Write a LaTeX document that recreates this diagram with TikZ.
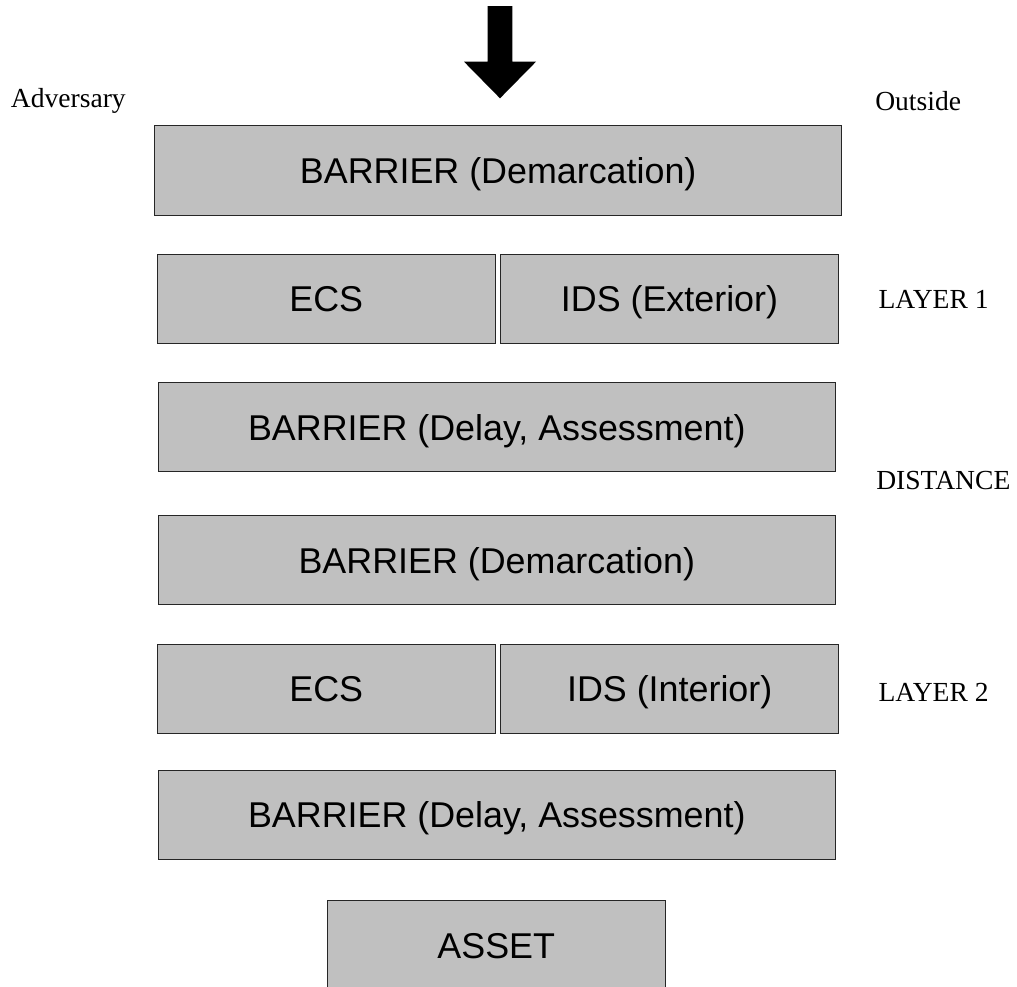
\documentclass[tikz,border=0pt]{standalone}
\usepackage{fontspec}
\setmainfont{Liberation Serif}
\setsansfont{Liberation Sans}
\definecolor{boxgray}{HTML}{C0C0C0}

\tikzset{
	layerbox/.style={draw=black!85, line width=0.7pt, fill=boxgray, minimum height=2.225cm,
		inner sep=0pt, text height=18.3pt, text depth=0pt,
		font=\sffamily\fontsize{25.5}{30}\selectfont},
	widebox/.style={layerbox, minimum width=16.925cm},
	halfbox/.style={layerbox, minimum width=8.45cm},
	sidelabel/.style={anchor=base west, inner sep=0pt, font=\fontsize{19.6}{23}\selectfont}
}

\begin{document}
\begin{tikzpicture}[x=0.025cm, y=-0.025cm]
					\useasboundingbox (0,0) rectangle (1017,986);
					\clip (0,0) rectangle (1017,986);
					
					\fill (487.7,6) -- (512.3,6) -- (512.3,61.7) -- (536,61.7) -- (500,98.3) -- (464,61.7) -- (487.7,61.7) -- cycle;
					
					\node[widebox, minimum width=17.175cm] (demarc1) at (498.2,170.5) {BARRIER (Demarcation)};
					\node[halfbox] (ecs1) at (326.3,298.8) {ECS};
					\node[halfbox] (ids1) at (669.5,298.8) {IDS (Exterior)};
					\node[widebox] (delay1) at (496.8,427.3) {BARRIER (Delay, Assessment)};
					\node[widebox] (demarc2) at (496.8,560.3) {BARRIER (Demarcation)};
					\node[halfbox] (ecs2) at (326.3,689) {ECS};
					\node[halfbox] (ids2) at (669.7,689) {IDS (Interior)};
					\node[widebox] (delay2) at (496.8,814.8) {BARRIER (Delay, Assessment)};
					\node[halfbox] (asset) at (496.2,945.2) {ASSET};
					
					\node[sidelabel] (adversary) at (10.7,107.7) {Adversary};
					\node[sidelabel] (outside) at (875,110.7) {Outside};
					\node[sidelabel] (layer1) at (878.3,308.3) {LAYER 1};
					\node[sidelabel] (distance) at (876,489.3) {DISTANCE};
					\node[sidelabel] (layer2) at (878.3,701) {LAYER 2};
\end{tikzpicture}
\end{document}
